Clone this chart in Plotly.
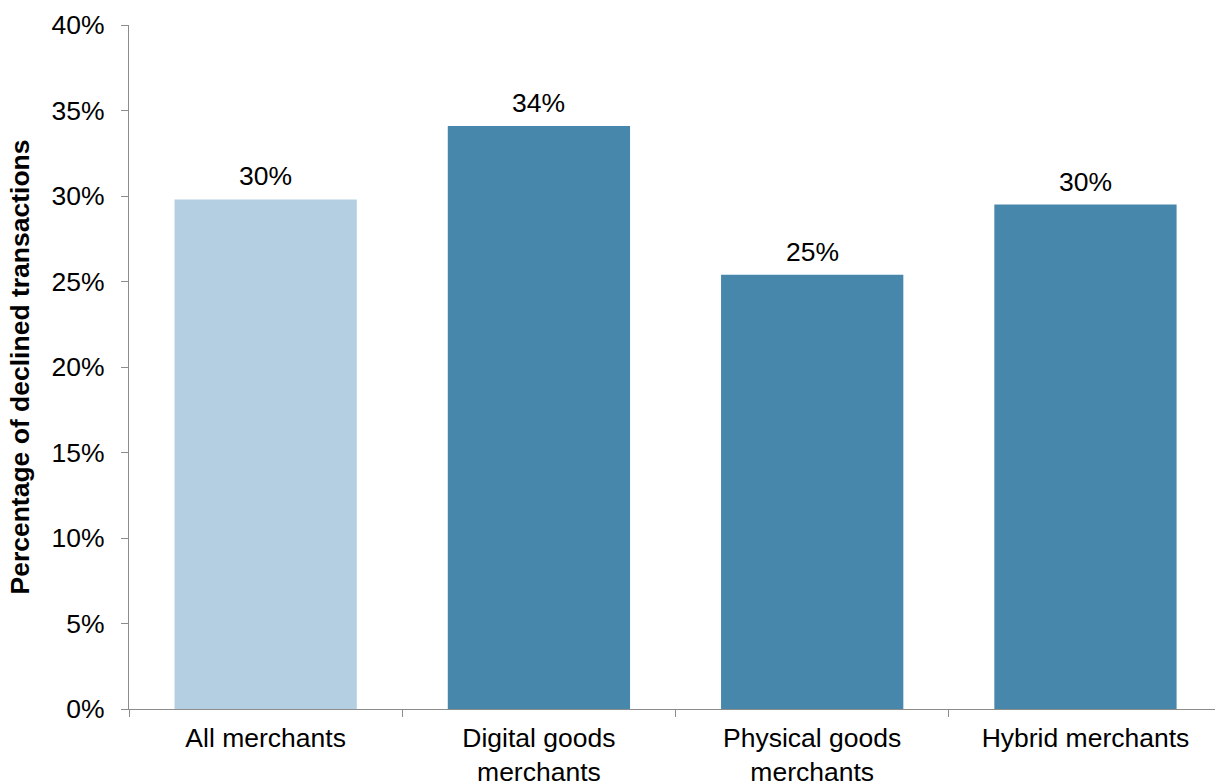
import plotly.graph_objects as go

# Share of declined card transactions by merchant type
categories = ["All merchants", "Digital goods<br>merchants",
              "Physical goods<br>merchants", "Hybrid merchants"]
decline_rate = [0.298, 0.341, 0.254, 0.295]
bar_colors = ["#B3CFE1", "#4787AC", "#4787AC", "#4787AC"]
y_ticks = [0, 0.05, 0.10, 0.15, 0.20, 0.25, 0.30, 0.35, 0.40]

FONT = "Liberation Sans, Arial, Helvetica, sans-serif"
FONT_SIZE = 26.5
AXIS_GREY = "#8C8C8C"

fig = go.Figure(
    go.Bar(
        x=categories,
        y=decline_rate,
        marker=dict(color=bar_colors, line=dict(width=0)),
        hoverinfo="skip",
    )
)

# value labels sitting above each bar
for cat, val in zip(categories, decline_rate):
    fig.add_annotation(
        x=cat, y=val, text=f"{val:.0%}", showarrow=False,
        yanchor="bottom", yshift=6,
        font=dict(family=FONT, size=FONT_SIZE, color="#000000"),
    )

fig.update_layout(
    width=1215, height=781,
    margin=dict(l=129, r=0, t=25, b=72),
    paper_bgcolor="white", plot_bgcolor="white",
    bargap=0.333,
    showlegend=False,
    font=dict(family=FONT, size=FONT_SIZE, color="#000000"),
)

fig.update_xaxes(
    range=[-0.5, 3.474],
    automargin=False,
    showline=True, linecolor=AXIS_GREY, linewidth=1.3,
    ticks="outside", tickson="boundaries", ticklen=7,
    tickcolor=AXIS_GREY, tickwidth=1.3,
    ticklabelstandoff=5,
    showgrid=False, zeroline=False,
    tickfont=dict(family=FONT, size=FONT_SIZE, color="#000000"),
)

fig.update_yaxes(
    range=[0, 0.40],
    automargin=False,
    tickvals=y_ticks, tickformat=".0%",
    showline=True, linecolor=AXIS_GREY, linewidth=1.3,
    ticks="outside", ticklen=7, tickcolor=AXIS_GREY, tickwidth=1.3,
    ticklabelstandoff=11,
    showgrid=False, zeroline=False,
    tickfont=dict(family=FONT, size=FONT_SIZE, color="#000000"),
    title=dict(text="<b>Percentage of declined transactions</b>",
               font=dict(family=FONT, size=FONT_SIZE, color="#000000"),
               standoff=14),
)

fig.write_html("out.html")
